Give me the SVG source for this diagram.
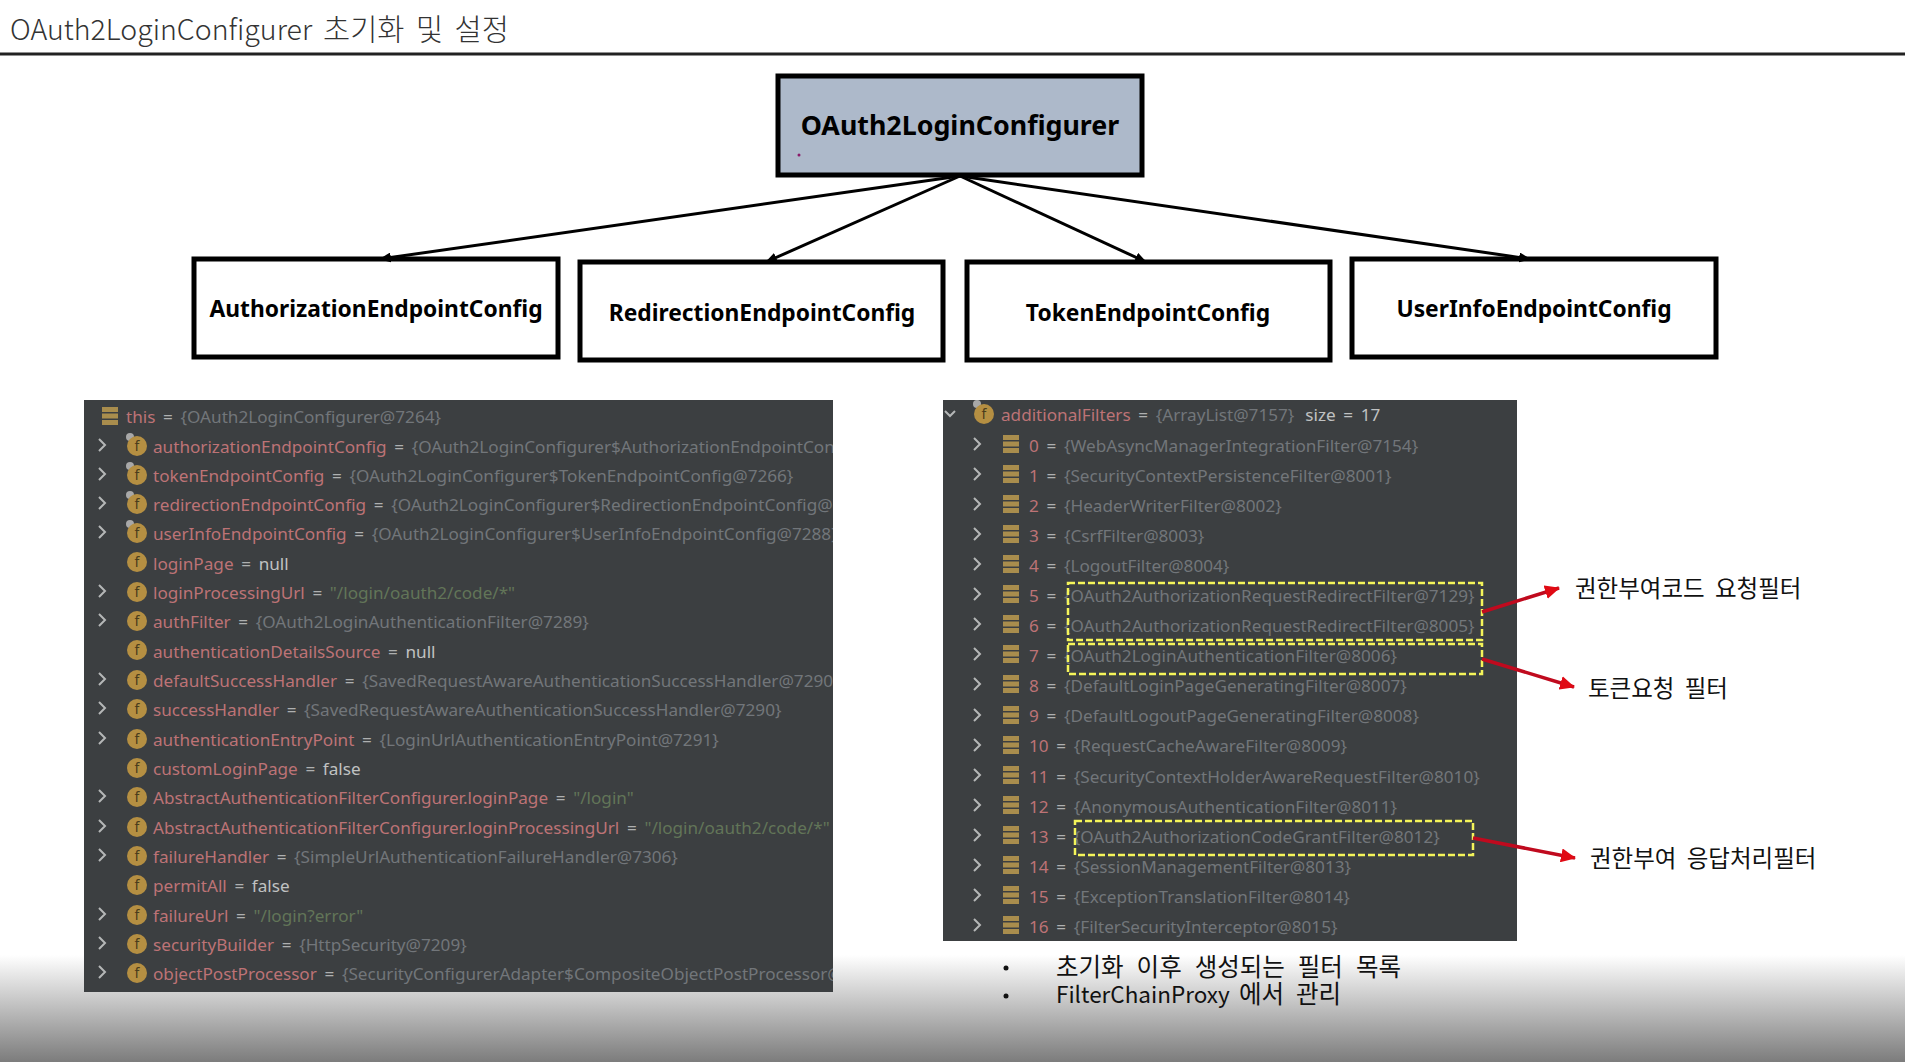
<svg xmlns="http://www.w3.org/2000/svg" width="1905" height="1062" viewBox="0 0 1905 1062">
<style>
.t{font-family:"Noto Sans","Noto Sans CJK KR",sans-serif;font-size:17.150px}
.n{fill:#bd7376}.e{fill:#aeb0b0;word-spacing:3.200px}.v{fill:#72767a}.g{fill:#627558}.w{fill:#c0c2c2}
.ko{font-family:"Noto Sans CJK KR","Noto Sans",sans-serif;fill:#111;font-size:23.500px;word-spacing:5px}
.ko2{font-family:"Noto Sans CJK KR","Noto Sans",sans-serif;fill:#111;font-size:24.500px;word-spacing:6.500px}
.box{fill:#fff;stroke:#000;stroke-width:5}
.bt{font-family:"Noto Sans","Noto Sans CJK KR",sans-serif;font-weight:700;font-size:22.800px;fill:#000;text-anchor:middle}
.chev{fill:none;stroke:#b5b7b7;stroke-width:2}
.ic{fill:#b58f42}
.ft{font-family:"Noto Sans",sans-serif;font-size:14px;fill:#4a3c1c;text-anchor:middle}
.pin{fill:#a8a8a8}
.bars{fill:#a98d4d}
.dash{fill:none;stroke:#f4f45a;stroke-width:2.500;stroke-dasharray:7 3}
.red{stroke:#c00a1e;stroke-width:3.500;fill:none;marker-end:url(#ra)}
.blk{stroke:#000;stroke-width:3;fill:none;marker-end:url(#ka)}
</style>
<defs>
<linearGradient id="fade" x1="0" y1="0" x2="0" y2="1"><stop offset="0" stop-color="#fff"/><stop offset="1" stop-color="#7c7c7c"/></linearGradient>
<marker id="ka" markerUnits="userSpaceOnUse" markerWidth="12" markerHeight="10" refX="11" refY="5" orient="auto"><path d="M0 0L12 5L0 10Z" fill="#000"/></marker>
<marker id="ra" markerUnits="userSpaceOnUse" markerWidth="16" markerHeight="14" refX="14" refY="7" orient="auto"><path d="M0 0L15 7L0 14Z" fill="#e00a14"/></marker>
<path id="c" d="M-3 -6L3 0L-3 6" class="chev"/>
<g id="f"><circle r="10" class="ic"/><text y="5" class="ft">f</text></g>
<g id="l"><rect x="-8" y="-9" width="16" height="5" class="bars"/><rect x="-8" y="-2.500" width="16" height="5" class="bars"/><rect x="-8" y="4" width="16" height="5" class="bars"/></g>
</defs>
<rect width="1905" height="1062" fill="#fff"/>
<rect y="955" width="1905" height="107" fill="url(#fade)"/>
<g id="title"><text x="10" y="40" font-family="'Noto Sans CJK KR','Noto Sans',sans-serif" font-size="28.500" font-weight="300" fill="#333">OAuth2LoginConfigurer<tspan x="323" font-size="29.500" word-spacing="5">초기화 및 설정</tspan></text><rect y="52.500" width="1905" height="3" fill="#222"/></g>

<g id="node-main"><rect x="778" y="76" width="364" height="99" fill="#adb9ca" stroke="#000" stroke-width="5"/><text x="960" y="135" class="bt" style="font-size:26.800px">OAuth2LoginConfigurer</text><circle cx="799" cy="155" r="1.500" fill="#8a1a6a"/></g>
<g id="node-auth"><rect x="194" y="259" width="364" height="98" class="box"/><text x="376" y="317" class="bt">AuthorizationEndpointConfig</text></g>
<g id="node-redir"><rect x="580" y="262" width="363" height="98" class="box"/><text x="762" y="321" class="bt">RedirectionEndpointConfig</text></g>
<g id="node-token"><rect x="967" y="262" width="363" height="98" class="box"/><text x="1148" y="321" class="bt">TokenEndpointConfig</text></g>
<g id="node-userinfo"><rect x="1352" y="259" width="364" height="98" class="box"/><text x="1534" y="317" class="bt">UserInfoEndpointConfig</text></g>

<g id="panel-left">
<rect x="84" y="400" width="749" height="592" fill="#3c3f41"/>
<svg x="84" y="400" width="749" height="592" viewBox="84 400 749 592">
<use href="#l" x="110" y="416"/><text x="126" y="423" class="t"><tspan class="n">this</tspan><tspan class="e"> = </tspan><tspan class="v">{OAuth2LoginConfigurer@7264}</tspan></text>
<use href="#c" x="102" y="445"/><circle cx="130" cy="437" r="4" class="pin"/><use href="#f" x="137" y="446"/><text x="153" y="453" class="t"><tspan class="n">authorizationEndpointConfig</tspan><tspan class="e"> = </tspan><tspan class="v">{OAuth2LoginConfigurer$AuthorizationEndpointConfig@7265}</tspan></text>
<use href="#c" x="102" y="474"/><circle cx="130" cy="466" r="4" class="pin"/><use href="#f" x="137" y="475"/><text x="153" y="482" class="t"><tspan class="n">tokenEndpointConfig</tspan><tspan class="e"> = </tspan><tspan class="v">{OAuth2LoginConfigurer$TokenEndpointConfig@7266}</tspan></text>
<use href="#c" x="102" y="503"/><circle cx="130" cy="495" r="4" class="pin"/><use href="#f" x="137" y="504"/><text x="153" y="511" class="t"><tspan class="n">redirectionEndpointConfig</tspan><tspan class="e"> = </tspan><tspan class="v">{OAuth2LoginConfigurer$RedirectionEndpointConfig@7287}</tspan></text>
<use href="#c" x="102" y="532"/><circle cx="130" cy="524" r="4" class="pin"/><use href="#f" x="137" y="533"/><text x="153" y="540" class="t"><tspan class="n">userInfoEndpointConfig</tspan><tspan class="e"> = </tspan><tspan class="v">{OAuth2LoginConfigurer$UserInfoEndpointConfig@7288}</tspan></text>
<use href="#f" x="137" y="562"/><text x="153" y="570" class="t"><tspan class="n">loginPage</tspan><tspan class="e"> = </tspan><tspan class="w">null</tspan></text>
<use href="#c" x="102" y="591"/><use href="#f" x="137" y="592"/><text x="153" y="599" class="t"><tspan class="n">loginProcessingUrl</tspan><tspan class="e"> = </tspan><tspan class="g">"/login/oauth2/code/*"</tspan></text>
<use href="#c" x="102" y="620"/><use href="#f" x="137" y="621"/><text x="153" y="628" class="t"><tspan class="n">authFilter</tspan><tspan class="e"> = </tspan><tspan class="v">{OAuth2LoginAuthenticationFilter@7289}</tspan></text>
<use href="#f" x="137" y="650"/><text x="153" y="658" class="t"><tspan class="n">authenticationDetailsSource</tspan><tspan class="e"> = </tspan><tspan class="w">null</tspan></text>
<use href="#c" x="102" y="679"/><use href="#f" x="137" y="680"/><text x="153" y="687" class="t"><tspan class="n">defaultSuccessHandler</tspan><tspan class="e"> = </tspan><tspan class="v">{SavedRequestAwareAuthenticationSuccessHandler@7290}</tspan></text>
<use href="#c" x="102" y="708"/><use href="#f" x="137" y="709"/><text x="153" y="716" class="t"><tspan class="n">successHandler</tspan><tspan class="e"> = </tspan><tspan class="v">{SavedRequestAwareAuthenticationSuccessHandler@7290}</tspan></text>
<use href="#c" x="102" y="738"/><use href="#f" x="137" y="739"/><text x="153" y="746" class="t"><tspan class="n">authenticationEntryPoint</tspan><tspan class="e"> = </tspan><tspan class="v">{LoginUrlAuthenticationEntryPoint@7291}</tspan></text>
<use href="#f" x="137" y="768"/><text x="153" y="775" class="t"><tspan class="n">customLoginPage</tspan><tspan class="e"> = </tspan><tspan class="w">false</tspan></text>
<use href="#c" x="102" y="796"/><use href="#f" x="137" y="797"/><text x="153" y="804" class="t"><tspan class="n">AbstractAuthenticationFilterConfigurer.loginPage</tspan><tspan class="e"> = </tspan><tspan class="g">"/login"</tspan></text>
<use href="#c" x="102" y="826"/><use href="#f" x="137" y="827"/><text x="153" y="834" class="t"><tspan class="n">AbstractAuthenticationFilterConfigurer.loginProcessingUrl</tspan><tspan class="e"> = </tspan><tspan class="g">"/login/oauth2/code/*"</tspan></text>
<use href="#c" x="102" y="855"/><use href="#f" x="137" y="856"/><text x="153" y="863" class="t"><tspan class="n">failureHandler</tspan><tspan class="e"> = </tspan><tspan class="v">{SimpleUrlAuthenticationFailureHandler@7306}</tspan></text>
<use href="#f" x="137" y="885"/><text x="153" y="892" class="t"><tspan class="n">permitAll</tspan><tspan class="e"> = </tspan><tspan class="w">false</tspan></text>
<use href="#c" x="102" y="914"/><use href="#f" x="137" y="915"/><text x="153" y="922" class="t"><tspan class="n">failureUrl</tspan><tspan class="e"> = </tspan><tspan class="g">"/login?error"</tspan></text>
<use href="#c" x="102" y="943"/><use href="#f" x="137" y="944"/><text x="153" y="951" class="t"><tspan class="n">securityBuilder</tspan><tspan class="e"> = </tspan><tspan class="v">{HttpSecurity@7209}</tspan></text>
<use href="#c" x="102" y="972"/><use href="#f" x="137" y="973"/><text x="153" y="980" class="t"><tspan class="n">objectPostProcessor</tspan><tspan class="e"> = </tspan><tspan class="v">{SecurityConfigurerAdapter$CompositeObjectPostProcessor@7310}</tspan></text>
</svg>
</g>

<g id="panel-right">
<rect x="943" y="400" width="574" height="541" fill="#3c3f41"/>
<path d="M945 411L950 416L955 411" class="chev"/><circle cx="977" cy="404" r="4" class="pin"/><use href="#f" x="984" y="414"/><text x="1001" y="421" class="t"><tspan class="n">additionalFilters</tspan><tspan class="e"> = </tspan><tspan class="v">{ArrayList@7157}</tspan><tspan class="w" dx="11" word-spacing="3.200">size = 17</tspan></text>
<use href="#c" x="977" y="444"/><use href="#l" x="1011" y="444"/><text x="1029" y="452" class="t"><tspan class="n">0</tspan><tspan class="e"> = </tspan><tspan class="v">{WebAsyncManagerIntegrationFilter@7154}</tspan></text>
<use href="#c" x="977" y="474"/><use href="#l" x="1011" y="474"/><text x="1029" y="482" class="t"><tspan class="n">1</tspan><tspan class="e"> = </tspan><tspan class="v">{SecurityContextPersistenceFilter@8001}</tspan></text>
<use href="#c" x="977" y="504"/><use href="#l" x="1011" y="504"/><text x="1029" y="512" class="t"><tspan class="n">2</tspan><tspan class="e"> = </tspan><tspan class="v">{HeaderWriterFilter@8002}</tspan></text>
<use href="#c" x="977" y="534"/><use href="#l" x="1011" y="534"/><text x="1029" y="542" class="t"><tspan class="n">3</tspan><tspan class="e"> = </tspan><tspan class="v">{CsrfFilter@8003}</tspan></text>
<use href="#c" x="977" y="564"/><use href="#l" x="1011" y="564"/><text x="1029" y="572" class="t"><tspan class="n">4</tspan><tspan class="e"> = </tspan><tspan class="v">{LogoutFilter@8004}</tspan></text>
<use href="#c" x="977" y="594"/><use href="#l" x="1011" y="594"/><text x="1029" y="602" class="t"><tspan class="n">5</tspan><tspan class="e"> = </tspan><tspan class="v">{OAuth2AuthorizationRequestRedirectFilter@7129}</tspan></text>
<use href="#c" x="977" y="624"/><use href="#l" x="1011" y="624"/><text x="1029" y="632" class="t"><tspan class="n">6</tspan><tspan class="e"> = </tspan><tspan class="v">{OAuth2AuthorizationRequestRedirectFilter@8005}</tspan></text>
<use href="#c" x="977" y="654"/><use href="#l" x="1011" y="654"/><text x="1029" y="662" class="t"><tspan class="n">7</tspan><tspan class="e"> = </tspan><tspan class="v">{OAuth2LoginAuthenticationFilter@8006}</tspan></text>
<use href="#c" x="977" y="684"/><use href="#l" x="1011" y="684"/><text x="1029" y="692" class="t"><tspan class="n">8</tspan><tspan class="e"> = </tspan><tspan class="v">{DefaultLoginPageGeneratingFilter@8007}</tspan></text>
<use href="#c" x="977" y="715"/><use href="#l" x="1011" y="715"/><text x="1029" y="722" class="t"><tspan class="n">9</tspan><tspan class="e"> = </tspan><tspan class="v">{DefaultLogoutPageGeneratingFilter@8008}</tspan></text>
<use href="#c" x="977" y="745"/><use href="#l" x="1011" y="745"/><text x="1029" y="752" class="t"><tspan class="n">10</tspan><tspan class="e"> = </tspan><tspan class="v">{RequestCacheAwareFilter@8009}</tspan></text>
<use href="#c" x="977" y="775"/><use href="#l" x="1011" y="775"/><text x="1029" y="783" class="t"><tspan class="n">11</tspan><tspan class="e"> = </tspan><tspan class="v">{SecurityContextHolderAwareRequestFilter@8010}</tspan></text>
<use href="#c" x="977" y="805"/><use href="#l" x="1011" y="805"/><text x="1029" y="813" class="t"><tspan class="n">12</tspan><tspan class="e"> = </tspan><tspan class="v">{AnonymousAuthenticationFilter@8011}</tspan></text>
<use href="#c" x="977" y="835"/><use href="#l" x="1011" y="835"/><text x="1029" y="843" class="t"><tspan class="n">13</tspan><tspan class="e"> = </tspan><tspan class="v">{OAuth2AuthorizationCodeGrantFilter@8012}</tspan></text>
<use href="#c" x="977" y="865"/><use href="#l" x="1011" y="865"/><text x="1029" y="873" class="t"><tspan class="n">14</tspan><tspan class="e"> = </tspan><tspan class="v">{SessionManagementFilter@8013}</tspan></text>
<use href="#c" x="977" y="895"/><use href="#l" x="1011" y="895"/><text x="1029" y="903" class="t"><tspan class="n">15</tspan><tspan class="e"> = </tspan><tspan class="v">{ExceptionTranslationFilter@8014}</tspan></text>
<use href="#c" x="977" y="925"/><use href="#l" x="1011" y="925"/><text x="1029" y="933" class="t"><tspan class="n">16</tspan><tspan class="e"> = </tspan><tspan class="v">{FilterSecurityInterceptor@8015}</tspan></text>
<rect x="1068" y="583" width="414" height="57" class="dash"/>
<rect x="1068" y="644" width="414" height="30" class="dash"/>
<rect x="1075" y="821" width="398" height="34" class="dash"/>
</g>

<g id="connectors">
<path class="blk" d="M960 176L380 259"/><path class="blk" d="M960 176L766 262"/><path class="blk" d="M960 176L1146 262"/><path class="blk" d="M960 176L1530 259"/>
<path class="red" d="M1482 612L1559 588"/><path class="red" d="M1482 659L1574 687"/><path class="red" d="M1473 838L1575 858"/>
</g>

<g id="labels">
<text x="1575" y="597" class="ko">권한부여코드 요청필터</text>
<text x="1588" y="697" class="ko">토큰요청 필터</text>
<text x="1590" y="867" class="ko">권한부여 응답처리필터</text>
<circle cx="1006" cy="968" r="2.500" fill="#111"/><circle cx="1006" cy="996" r="2.500" fill="#111"/>
<text x="1056" y="976" class="ko2" style="word-spacing:7.500px">초기화 이후 생성되는 필터 목록</text>
<text x="1056" y="1003" class="ko2"><tspan font-size="22.500">FilterChainProxy</tspan><tspan x="1239">에서 관리</tspan></text>
</g>
</svg>
